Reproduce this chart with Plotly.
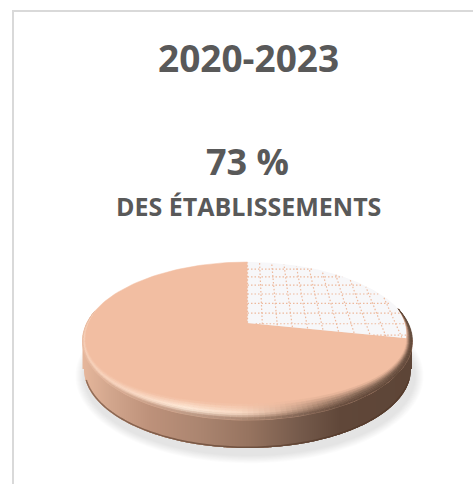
import math
import numpy as np
import plotly.graph_objects as go

# ---- data ----
period_title = "2020-2023"
share_label = "73 %"
share_caption = "DES ÉTABLISSEMENTS"
slice_names = ["Hachuré", "Plein"]
slice_values = [27, 73]

# ---- view of the disc (pixel space of the 473x484 page) ----
W, H = 473, 484
CX, APEX_Y = 247.5, 323.0
RX, TOP_Y, FRONT_Y = 165.0, 262.0, 420.0
BOT_FRONT_Y = 448.0
BACK = APEX_Y - TOP_Y
FRONT = FRONT_Y - APEX_Y
K = (FRONT - BACK) / (FRONT + BACK)
B = BACK * (1 + K)
A = RX * math.sqrt(1 - K * K)
ELL_YC = (TOP_Y + FRONT_Y) / 2
ELL_RY = (FRONT_Y - TOP_Y) / 2
BOT_YC = BOT_FRONT_Y - ELL_RY
BOT_RX = RX - 1.5
VIEW_WARP = 4.5  # degrees of apparent twist of the 3-D rendering

FACE = "#f2bea2"
HATCH_BG = "#f7f7f9"
HATCH_LINE = "#edb99d"
TEXT = "#595959"
FRAME = "#d9d9d9"


def plane(u, v):
    d = 1 + K * v
    return CX + A * u / d, APEX_Y - B * v / d


def shown(deg):
    return deg + VIEW_WARP * math.sin(math.radians(deg)) ** 2


def rim(a, b, n=120):
    xs, ys = [], []
    for d in np.linspace(a, b, n):
        x, y = plane(math.sin(math.radians(d)), math.cos(math.radians(d)))
        xs.append(x)
        ys.append(y)
    return xs, ys


def hex2rgb(c):
    return np.array([int(c[i:i + 2], 16) for i in (1, 3, 5)], float)


def lerp_color(stops, x):
    xs = [s[0] for s in stops]
    cs = np.array([hex2rgb(s[1]) for s in stops])
    return np.array([np.interp(x, xs, cs[:, i]) for i in range(3)])


def css(c):
    r, g, b = [int(round(v)) for v in c]
    return f"rgb({r},{g},{b})"


def poly(xs, ys, close=True):
    return "M" + "L".join(f"{x:.2f},{y:.2f}" for x, y in zip(xs, ys)) + ("Z" if close else "")


SIDE = [(82, "#e6b79c"), (110, "#d2a68d"), (150, "#bd917a"), (200, "#ab8570"), (250, "#96735f"),
        (300, "#755a4b"), (340, "#604739"), (413, "#5d4537")]
HILITE = [(82, "#f7d3bd"), (130, "#fbdcc8"), (185, "#ffeedd"), (240, "#f9dcc7"), (280, "#dcb49c"),
          (320, "#a5826d"), (360, "#7c6150"), (413, "#6a5142")]

shapes = []
# frame
shapes.append(dict(type="line", x0=13, x1=13, y0=11, y1=H, line=dict(color=FRAME, width=2), layer="below"))
shapes.append(dict(type="line", x0=12, x1=W, y0=11, y1=11, line=dict(color=FRAME, width=2), layer="below"))

# soft ground shadow
for i in range(9):
    g = 8 - i
    t = np.radians(np.linspace(0, 360, 120))
    xs = CX + 2 + (RX + 1 + g) * np.cos(t)
    ys = BOT_YC + 7 + (ELL_RY + 1 + g * 0.9) * np.sin(t)
    shapes.append(dict(type="path", path=poly(xs, ys), fillcolor="rgba(110,110,110,0.022)",
                       line=dict(width=0), layer="below"))


# side wall: overlapping strips painted left to right, each one covering the seam of the last
def wall_y(x, yc, rx):
    return yc + ELL_RY * np.sqrt(np.clip(1 - ((x - CX) / rx) ** 2, 0, 1))


x_edges = np.arange(math.floor(CX - RX), math.ceil(CX + RX), 1.0)
for x in x_edges:
    xs_all = np.arange(x, min(x + 4.0, CX + RX) + 0.01, 1.0)
    xs_all = np.clip(xs_all, CX - RX, CX + RX)
    top = wall_y(xs_all, ELL_YC, RX) - 3
    bot = wall_y(xs_all, BOT_YC, BOT_RX)
    shapes.append(dict(type="path",
                       path=poly(list(xs_all) + list(xs_all[::-1]), list(top) + list(bot[::-1])),
                       fillcolor=css(lerp_color(SIDE, x + 0.5)), line=dict(width=0), layer="below"))

# darker lower lip, one stroke along the foot of the wall
t = np.radians(np.linspace(8, 172, 120))
shapes.append(dict(type="path", path=poly(CX + (BOT_RX - 0.7) * np.cos(t), BOT_YC + (ELL_RY - 0.7) * np.sin(t), close=False),
                   line=dict(color="rgba(80,52,36,0.55)", width=1.5), layer="below"))


# bevel along the near edge of the top face, drawn above the slices
def bevel_width(phi):
    s = math.sin(math.radians(phi))
    base = 3.5 + 12.5 * max(0.0, s) ** 1.2
    lo, hi = -24.0, 204.0
    taper = min(1.0, (phi - lo) / 22.0, (hi - phi) / 22.0)
    extra = 4.0 * max(0.0, math.cos(math.radians(phi)))
    return (base + extra) * max(0.0, taper)


def bevel_pt(phi, d):
    r = math.radians(phi)
    return CX + (RX - d * 0.8) * math.cos(r), ELL_YC + (ELL_RY - d) * math.sin(r)


rings = [0.0, 0.15, 0.3, 0.45, 0.6, 0.72, 0.84, 1.0]
phis = np.arange(-24, 204, 2.0)
face_rgb = hex2rgb(FACE)
for a, b in zip(phis[:-1], phis[1:]):
    xm, _ = bevel_pt((a + b) / 2, 0)
    hi = lerp_color(HILITE, xm)
    sd = lerp_color(SIDE, xm)
    for s0, s1 in zip(rings[:-1], rings[1:]):
        sm = (s0 + s1) / 2
        if sm < 0.6:
            c = face_rgb + (hi - face_rgb) * (sm / 0.6)
        else:
            c = hi + (sd - hi) * ((sm - 0.6) / 0.4)
        p = [bevel_pt(a, bevel_width(a) * (1 - s0)), bevel_pt(b, bevel_width(b) * (1 - s0)),
             bevel_pt(b, bevel_width(b) * (1 - s1)), bevel_pt(a, bevel_width(a) * (1 - s1))]
        col = css(c)
        shapes.append(dict(type="path", path=poly([q[0] for q in p], [q[1] for q in p]),
                           fillcolor=col, line=dict(color=col, width=0.5), layer="above"))

# ---- slices ----
hatch_end = shown(360 * slice_values[0] / sum(slice_values))
fig = go.Figure()
xs, ys = rim(hatch_end, 360)
fig.add_trace(go.Scatter(x=[CX] + xs + [CX], y=[APEX_Y] + ys + [APEX_Y], name=slice_names[1], mode="lines",
                         fill="toself", fillcolor=FACE, line=dict(color=FACE, width=0.5), hoverinfo="skip"))
xs, ys = rim(0, hatch_end)
fig.add_trace(go.Scatter(x=[CX] + xs + [CX], y=[APEX_Y] + ys + [APEX_Y], name=slice_names[0], mode="lines",
                         fill="toself", fillcolor=HATCH_BG, line=dict(width=0), hoverinfo="skip"))


# hatch: dotted grid lying in the disc plane, kept inside the small slice
def inside(u, v):
    return u * u + v * v <= 0.985 and u >= 0 and math.degrees(math.atan2(u, v)) % 360 <= hatch_end


def grid_line(points):
    gx, gy = [], []
    for u, v in points:
        if inside(u, v):
            x, y = plane(u, v)
            gx.append(x)
            gy.append(y)
        else:
            gx.append(None)
            gy.append(None)
    return gx, gy


lx, ly = [], []
for v0 in np.arange(-0.3, 1.0, 0.145):
    a, b = grid_line([(u, v0) for u in np.linspace(0, 1, 160)])
    lx += a + [None]
    ly += b + [None]
for u0 in np.arange(0.0, 1.0, 0.092):
    a, b = grid_line([(u0, v) for v in np.linspace(-0.3, 1, 160)])
    lx += a + [None]
    ly += b + [None]
fig.add_trace(go.Scatter(x=lx, y=ly, mode="lines", connectgaps=False, hoverinfo="skip",
                         line=dict(color=HATCH_LINE, width=1.2, dash="1.5px 2px")))

annotations = [
    dict(x=248, y=57, text=period_title, font=dict(size=37, family="Open Sans", color=TEXT, weight="bold")),
    dict(x=247, y=161.5, text=share_label, font=dict(size=36, family="Open Sans", color=TEXT, weight="bold")),
    dict(x=248, y=206, text=share_caption, font=dict(size=25, family="Open Sans", color=TEXT, weight="bold")),
]
for a in annotations:
    a.update(xref="x", yref="y", showarrow=False, xanchor="center", yanchor="middle")

fig.update_layout(
    width=W, height=H, autosize=False, showlegend=False,
    margin=dict(l=0, r=0, t=0, b=0),
    paper_bgcolor="white", plot_bgcolor="white",
    xaxis=dict(range=[0, W], visible=False, fixedrange=True),
    yaxis=dict(range=[H, 0], visible=False, fixedrange=True),
    shapes=shapes, annotations=annotations,
)
fig.write_html("out.html", config={"displayModeBar": False},
               post_script="document.body.style.margin='0';document.documentElement.style.overflow='hidden';")
